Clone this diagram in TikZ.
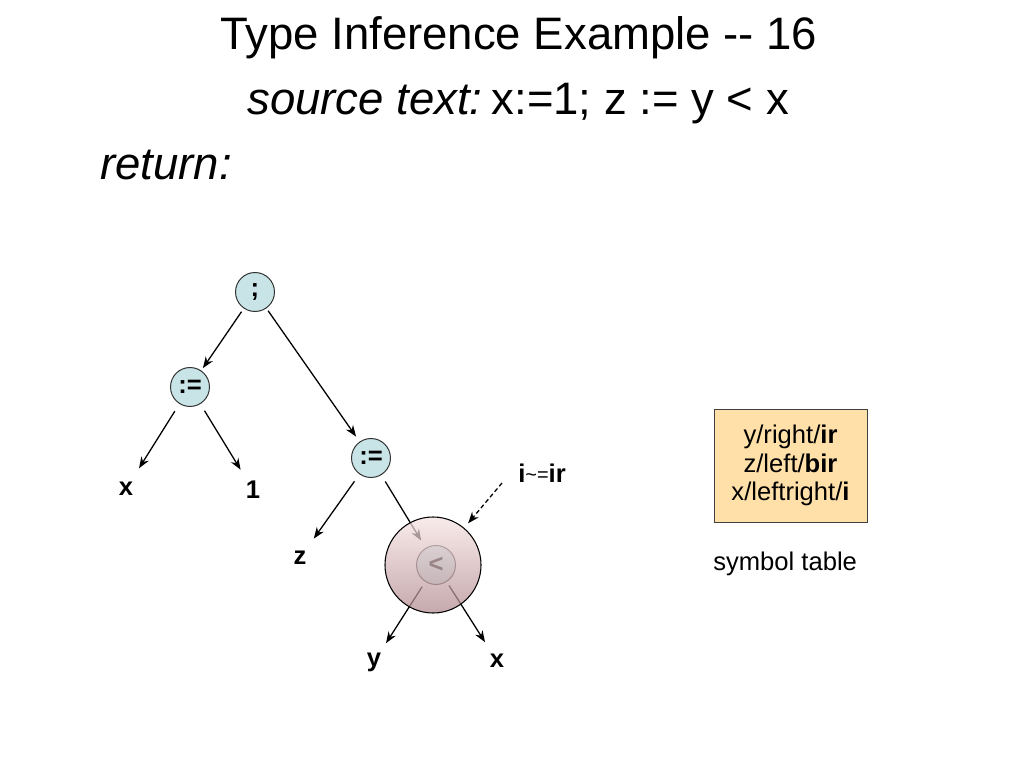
\documentclass[tikz,border=0pt]{standalone}
\usepackage{fontspec}
\setmainfont{Liberation Sans}
\usetikzlibrary{arrows.meta}
\definecolor{nodeblue}{RGB}{200,228,231}
\definecolor{pinktop}{RGB}{247,228,228}
\definecolor{pinkbot}{RGB}{176,136,142}
\definecolor{tablefill}{RGB}{255,224,168}
\begin{document}
\begin{tikzpicture}[x=0.703125pt,y=-0.703125pt,
  opnode/.style={circle,draw=black!80,line width=0.7pt,fill=nodeblue,inner sep=0pt,minimum size=27.4pt,font=\fontsize{18}{21}\selectfont\bfseries},
  leaf/.style={circle,inner sep=0pt,minimum size=31pt,font=\fontsize{18}{21}\selectfont\bfseries},
  arr/.style={line width=0.9pt,-{Stealth[length=8pt,width=6pt]}},
  dasharr/.style={line width=0.9pt,dash pattern=on 3pt off 2pt,-{Stealth[length=8pt,width=6pt]}},
  plain/.style={font=\fontsize{18}{21}\selectfont}
]
\useasboundingbox (0,0) rectangle (1024,768);
\fill[white] (0,0) rectangle (1024,768);

% headings
\node[anchor=base west,inner sep=0pt,font=\fontsize{32}{38}\selectfont] (title) at (220,50) {Type Inference Example {-}{-} 16};
\node[anchor=base west,inner sep=0pt,font=\fontsize{32}{38}\selectfont] (src) at (247,115) {{\itshape source text:}\hspace{0.2em}x:=1; z := y < x};
\node[anchor=base west,inner sep=0pt,font=\fontsize{32}{38}\selectfont\itshape] (ret) at (100,180) {return:};

% tree
\node[opnode] (semi) at (255,292) {;};
\node[opnode] (asg1) at (190,387) {:=};
\node[opnode] (asg2) at (371,458) {:=};
\node[opnode] (lt) at (436,565) {<};
\node[leaf] (x1) at (126,489) {x};
\node[leaf] (one) at (253,490) {1};
\node[leaf] (z) at (300,558) {z};
\node[leaf] (y) at (374,662) {y};
\node[leaf] (x2) at (497,661) {x};

\draw[arr,shorten <=2.7pt,shorten >=2pt] (semi) -- (asg1);
\draw[arr,shorten <=2pt,shorten >=4.3pt] (semi) -- (asg2);
\draw[arr,shorten <=6pt,shorten >=1.5pt] (asg1) -- (x1);
\draw[arr,shorten <=5.5pt,shorten >=1pt] (asg1) -- (one);
\draw[arr,shorten <=6pt,shorten >=1pt] (asg2) -- (z);
\draw[arr,shorten <=5.3pt,shorten >=6pt] (asg2) -- (lt);
\draw[arr,shorten <=4pt,shorten >=0pt] (lt) -- (y);
\draw[arr,shorten <=3pt,shorten >=0pt] (lt) -- (x2);

% translucent highlight
\node[circle,minimum size=67.5pt,inner sep=0pt,top color=pinktop,bottom color=pinkbot,fill opacity=0.72,draw=black,line width=0.75pt,draw opacity=1] (big) at (433,565) {};

% annotation
\node[anchor=base west,inner sep=0pt,font=\fontsize{18}{21}\selectfont] (ineq) at (518,482) {\textbf{i}{\fontsize{14}{16}\selectfont\raisebox{0.5pt}{\textasciitilde=}}\textbf{ir}};
\coordinate (dstart) at (502,483);
\draw[dasharr,shorten >=4.2pt] (dstart) -- (big);

% symbol table
\node[draw=black!75,line width=0.6pt,fill=tablefill,minimum width=107.6pt,minimum height=79.4pt,inner sep=0pt,align=center,font=\fontsize{18}{20.2}\selectfont] (tab) at (790.5,465.5) {y/right/\textbf{ir}\\z/left/\textbf{bir}\\x/leftright/\textbf{i}};
\node[anchor=base west,inner sep=0pt,plain] (tabcap) at (713,570) {symbol table};
\end{tikzpicture}
\end{document}
